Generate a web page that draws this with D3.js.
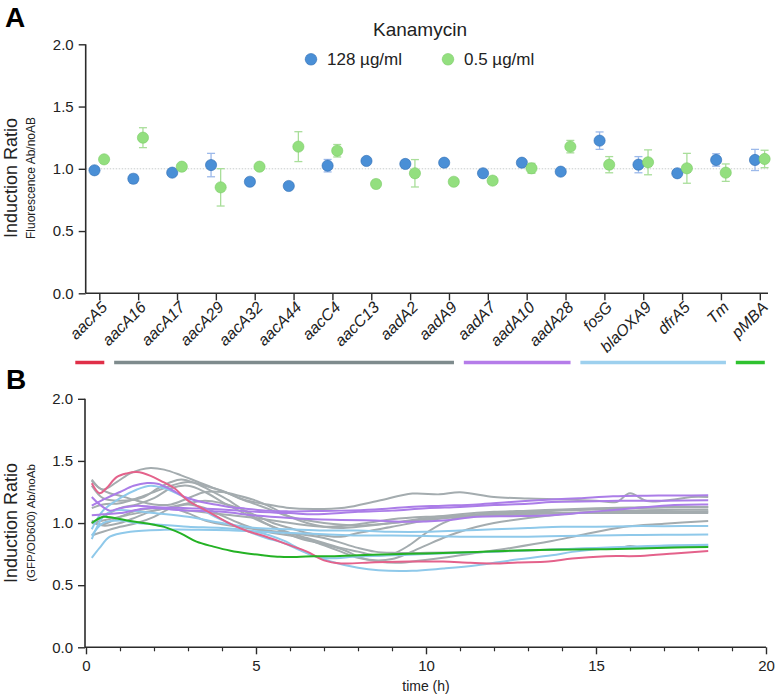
<!DOCTYPE html>
<html><head><meta charset="utf-8">
<script src="https://cdn.jsdelivr.net/npm/d3@7"></script>
<style>
body{margin:0;background:#fff;}
svg{display:block;font-family:"Liberation Sans",Arial,sans-serif;}
</style></head>
<body><svg id="c" width="779" height="696"></svg>
<script>
// ---------------- DATA ----------------
const categories = ["aacA5","aacA16","aacA17","aacA29","aacA32","aacA44","aacC4","aacC13","aadA2","aadA9","aadA7","aadA10","aadA28","fosG","blaOXA9","dfrA5","Tm","pMBA"];
const kan128    = [0.988,0.92,0.969,1.03,0.896,0.862,1.025,1.063,1.039,1.049,0.964,1.049,0.977,1.226,1.033,0.964,1.071,1.071];
const kan128Err = [0.02,0.035,0.02,0.094,0.02,0.02,0.05,0.02,0.03,0.02,0.02,0.02,0.02,0.07,0.065,0.02,0.05,0.085];
const kan05     = [1.076,1.25,1.017,0.851,1.017,1.178,1.145,0.878,0.964,0.896,0.905,1.004,1.178,1.033,1.052,1.004,0.969,1.079];
const kan05Err  = [0.02,0.08,0.02,0.15,0.02,0.12,0.05,0.03,0.11,0.02,0.03,0.04,0.05,0.065,0.1,0.12,0.07,0.07];
const legendLabels = ["128 µg/ml","0.5 µg/ml"];
const yTicksA = [0,0.5,1,1.5,2];
const yTicksB = [0,0.5,1,1.5,2];
const xTicksB = [0,5,10,15,20];
const groupStart = ["aacA5","aacA16","aadA7","fosG","pMBA"];
const groupEnd   = ["aacA5","aadA9","aadA28","Tm","pMBA"];

// panel B time courses: [time (h), induction ratio]
const lineRed = [[0.17,1.32],[0.4,1.24],[0.6,1.28],[0.9,1.37],[1.2,1.40],[1.5,1.41],[1.9,1.38],[2.2,1.34],[2.6,1.28],[3,1.18],[3.4,1.12],[3.8,1.06],[4.2,1.0],[4.7,0.94],[5.3,0.89],[5.9,0.83],[6.5,0.77],[7,0.70],[7.5,0.675],[8.5,0.685],[9.5,0.69],[10.5,0.69],[11.3,0.68],[12,0.675],[12.7,0.683],[13.6,0.69],[14.3,0.715],[15.3,0.733],[16.3,0.735],[17.3,0.755],[18.3,0.776]];
const lineGreen = [[0.17,1.0],[0.5,1.05],[0.8,1.043],[1.3,1.017],[1.8,0.996],[2.3,0.969],[2.8,0.915],[3.25,0.85],[3.75,0.81],[4.25,0.777],[4.75,0.755],[5.2,0.741],[5.7,0.728],[6.2,0.727],[6.7,0.733],[7.1,0.733],[8,0.741],[9,0.749],[10,0.755],[11,0.763],[12,0.773],[13,0.781],[14.3,0.787],[15.3,0.79],[16.3,0.795],[17.3,0.803],[18.3,0.808]];
const linesBlue = [
 [[0.17,0.95],[0.5,1.1],[1,1.2],[1.5,1.27],[1.9,1.30],[2.3,1.28],[2.8,1.22],[3.3,1.13],[3.8,1.05],[4.3,0.99],[4.8,0.93],[5.3,0.88],[5.8,0.84],[6.3,0.78],[6.9,0.72],[8,0.73],[9,0.74],[10,0.75],[12,0.77],[14,0.79],[15,0.80],[16,0.81],[17,0.82],[18.3,0.825]],
 [[0.17,0.9],[0.5,1.0],[1,1.02],[1.5,1.0],[2,0.99],[3,0.97],[4,0.96],[5,0.93],[5.8,0.86],[6.5,0.76],[7.2,0.69],[8,0.64],[8.6,0.62],[9.6,0.616],[10.5,0.634],[11.5,0.66],[12.5,0.70],[13.7,0.74],[14.3,0.768],[15.3,0.795],[16.7,0.808],[18.3,0.82]],
 [[0.17,0.87],[0.5,1.05],[0.8,1.1],[1.3,1.1],[2,1.08],[3,1.05],[4,1.0],[5,0.96],[6,0.95],[7,0.94],[8,0.94],[9,0.93],[10,0.93],[11,0.94],[12,0.95],[13,0.96],[14,0.97],[15,0.97],[16,0.975],[17,0.975],[18.3,0.977]],
 [[0.17,0.72],[0.4,0.8],[0.7,0.89],[1.3,0.93],[2.3,0.946],[3.3,0.946],[4.2,0.942],[5.2,0.93],[6,0.92],[7,0.91],[8,0.9],[9,0.9],[10,0.895],[11,0.89],[12,0.89],[13,0.89],[14,0.895],[15,0.9],[16,0.903],[17,0.905],[18.3,0.907]]
];
const linesPurple = [
 [[0.17,1.14],[0.6,1.2],[1,1.25],[1.4,1.30],[1.8,1.322],[2.1,1.317],[2.5,1.27],[2.9,1.21],[3.4,1.17],[3.8,1.15],[4.2,1.13],[4.7,1.116],[5.3,1.10],[5.9,1.094],[6.7,1.097],[7.5,1.10],[8.5,1.11],[9.5,1.13],[10.5,1.14],[11.5,1.15],[12.5,1.17],[13.7,1.19],[14.5,1.2],[15.5,1.215],[16.5,1.22],[17.5,1.222],[18.3,1.223]],
 [[0.17,1.21],[0.4,1.15],[0.7,1.10],[1,1.12],[1.5,1.14],[2,1.13],[3,1.12],[4,1.11],[5,1.09],[6,1.08],[6.7,1.07],[8,1.09],[9,1.1],[10,1.12],[11,1.13],[12,1.145],[13,1.155],[13.7,1.17],[15,1.175],[16,1.18],[17,1.18],[18.3,1.183]],
 [[0.17,1.063],[0.5,1.07],[1,1.08],[1.8,1.12],[2.5,1.11],[3,1.10],[4,1.09],[5,1.06],[6,1.04],[6.7,1.03],[7.5,1.025],[8.5,1.02],[9.5,1.01],[10.5,1.02],[11.5,1.05],[12.5,1.055],[13.5,1.06],[15.3,1.10],[17.3,1.145],[18.3,1.15]]
];
const linesGray = [
 [[0.17,1.34],[0.5,1.27],[0.9,1.33],[1.3,1.40],[1.6,1.43],[1.9,1.443],[2.3,1.43],[2.8,1.384],[3.3,1.33],[3.8,1.277],[4.2,1.237],[4.7,1.183],[5.2,1.156],[5.9,1.124],[6.7,1.113],[7.6,1.124],[8.6,1.18],[9.6,1.237],[10.4,1.231],[11,1.248],[12,1.21],[13,1.197],[14,1.19],[15,1.18],[15.6,1.17],[16,1.24],[16.5,1.177],[17.3,1.19],[17.8,1.21],[18.3,1.21]],
 [[0.17,1.30],[0.5,1.2],[1,1.18],[1.7,1.21],[2.1,1.277],[2.5,1.33],[2.8,1.35],[3.2,1.322],[3.75,1.25],[4.2,1.183],[4.7,1.09],[5.2,1.009],[5.7,0.942],[6.3,0.875],[6.9,0.835],[7.6,0.781],[8.1,0.72],[8.6,0.69],[9.1,0.68],[9.6,0.69],[10.5,0.72],[11.5,0.76],[12.5,0.80],[13.7,0.855],[14.5,0.9],[15.8,0.969],[17,0.995],[18.3,1.017]],
 [[0.17,1.0],[0.5,1.05],[1,1.12],[1.5,1.15],[2,1.2],[2.5,1.28],[3,1.30],[3.5,1.25],[4,1.17],[4.5,1.1],[5,1.03],[5.5,0.97],[6,0.92],[6.5,0.88],[7,0.84],[7.5,0.8],[8,0.77],[8.5,0.74],[9,0.75],[9.5,0.82],[10,0.92],[10.5,1.0],[11,1.05],[11.5,1.07],[12,1.08],[13,1.09],[14,1.10],[15,1.11],[16,1.12],[17,1.125],[18.3,1.13]],
 [[0.17,1.0],[0.5,0.99],[1,1.05],[1.5,1.1],[2,1.12],[3,1.1],[4,1.07],[5,1.04],[6,1.0],[7,0.97],[8,0.99],[9,1.03],[10,1.05],[11,1.06],[12,1.07],[13,1.08],[14,1.08],[15,1.085],[16,1.09],[17,1.09],[18.3,1.09]],
 [[0.17,1.12],[0.5,1.15],[1,1.16],[1.5,1.2],[2,1.25],[2.5,1.3],[3,1.33],[3.5,1.3],[4,1.26],[4.5,1.2],[5,1.15],[5.5,1.1],[6,1.05],[7,1.0],[8,0.98],[9,1.0],[10,1.03],[11,1.05],[12,1.07],[13,1.075],[14,1.08],[15,1.08],[16,1.08],[17,1.08],[18.3,1.08]],
 [[0.17,1.02],[0.5,0.98],[1,1.0],[1.5,1.05],[2,1.1],[2.5,1.12],[3,1.08],[3.5,1.02],[4,0.99],[5,0.95],[6,0.92],[7,0.88],[8,0.8],[8.5,0.77],[9,0.76],[10,0.76],[11,0.765],[12,0.77],[13,0.78],[14,0.79],[15,0.795],[15.7,0.80],[16,0.815],[16.4,0.80],[17,0.805],[18.3,0.81]],
 [[0.17,0.9],[0.5,0.93],[1,0.97],[1.5,1.0],[2,1.05],[2.5,1.12],[3,1.15],[3.5,1.12],[4,1.06],[4.5,1.0],[5,0.95],[5.5,0.92],[6,0.9],[6.5,0.87],[7,0.82],[7.5,0.77],[8,0.72],[8.5,0.7],[9,0.71],[9.5,0.76],[10,0.82],[10.5,0.88],[11,0.93],[11.5,0.97],[12,1.0],[13,1.04],[14,1.07],[15,1.09],[16,1.10],[17,1.105],[18.3,1.11]],
 [[0.17,1.35],[0.4,1.28],[0.7,1.24],[1,1.22],[1.5,1.18],[2,1.15],[2.5,1.15],[3,1.2],[3.5,1.25],[4,1.25],[4.5,1.22],[5,1.18],[5.5,1.12],[6,1.05],[6.5,1.0],[7,0.97],[7.5,0.96],[8,0.97],[9,1.0],[10,1.04],[11,1.07],[12,1.09],[13,1.1],[14,1.11],[15,1.12],[16,1.125],[17,1.13],[18.3,1.13]],
 [[0.17,1.0],[0.5,1.02],[1,1.05],[1.5,1.08],[2,1.1],[2.5,1.13],[3,1.16],[3.5,1.18],[4,1.16],[4.5,1.12],[5,1.06],[5.5,1.0],[6,0.96],[6.5,0.92],[7,0.9],[7.5,0.89],[8,0.92],[9,0.97],[10,1.02],[11,1.05],[12,1.06],[13,1.07],[14,1.08],[15,1.085],[16,1.09],[17,1.09],[18.3,1.095]]
];

// ---------------- STYLE ----------------
const axisColor = "#2b2b2b";
const col128 = "#4a8fd6", col128Stroke = "#2f6db3", col128Err = "#9cb9ea";
const col05 = "#93df7f", col05Stroke = "#7acb67", col05Err = "#a9de9a";
const groupColors = ["#e02f48","#7e8b8d","#b57ce9","#9dd0ee","#2fc22f"];
const lineColors = {gray:"#a4acaf", blue:"#8fc9ea", purple:"#ab7de8", red:"#e4628b", green:"#24b224"};

const svg = d3.select("#c");

// ---------------- PANEL A ----------------
const xA = d3.scalePoint().domain(categories).range([99.3, 759.8]);
const yA = d3.scaleLinear().domain([0,2]).range([293.3, 44.3]);
const axLeftA = 85.7, axRightA = 768;

svg.append("text").attr("x",5).attr("y",27).attr("font-size",28).attr("font-weight","bold").text("A");

// dotted reference line
svg.append("line").attr("x1",axLeftA).attr("x2",axRightA).attr("y1",yA(1)).attr("y2",yA(1))
  .attr("stroke","#c8cccc").attr("stroke-width",1).attr("stroke-dasharray","1.5,1.5");

// y axis
const gyA = svg.append("g").attr("transform",`translate(${axLeftA},0)`)
  .call(d3.axisLeft(yA).tickValues(yTicksA).tickFormat(d3.format(".1f")).tickSize(7).tickPadding(5));
// x axis
const gxA = svg.append("g").attr("transform",`translate(0,${yA(0)})`)
  .call(d3.axisBottom(xA).tickSize(7).tickFormat(""));
gxA.select(".domain").attr("d",`M${axLeftA},0H${axRightA}`);
[gyA,gxA].forEach(g=>{
  g.select(".domain").attr("stroke",axisColor).attr("stroke-width",1.6);
  g.selectAll(".tick line").attr("stroke",axisColor).attr("stroke-width",1.4);
  g.selectAll(".tick text").attr("font-size",15).attr("fill","#222").attr("font-family","Liberation Sans, Arial, sans-serif");
});
gyA.select(".domain").attr("d",`M0,${yA(2)}V${yA(0)}`);

// rotated category labels
svg.append("g").selectAll("text").data(categories).join("text")
  .attr("transform",d=>`translate(${xA(d)+9},${yA(0)+15}) rotate(-45)`)
  .attr("text-anchor","end").attr("font-size",16).attr("font-style","italic").attr("fill","#222")
  .text(d=>d);

// group bars
svg.append("g").selectAll("line").data(groupStart).join("line")
  .attr("x1",d=>xA(d)-24).attr("x2",(d,i)=>xA(groupEnd[i])+5)
  .attr("y1",362.5).attr("y2",362.5)
  .attr("stroke",(d,i)=>groupColors[i]).attr("stroke-width",3.5);

// error bars + dots
function drawSeries(vals, errs, off, c, cs, ce){
  const g = svg.append("g");
  categories.forEach((cat,i)=>{
    const x = xA(cat)+off, lo = yA(vals[i]-errs[i]), hi = yA(vals[i]+errs[i]);
    g.append("line").attr("x1",x).attr("x2",x).attr("y1",lo).attr("y2",hi).attr("stroke",ce).attr("stroke-width",1.3);
    [lo,hi].forEach(yy=>g.append("line").attr("x1",x-4).attr("x2",x+4).attr("y1",yy).attr("y2",yy).attr("stroke",ce).attr("stroke-width",1.3));
  });
  g.selectAll("circle").data(vals).join("circle")
    .attr("cx",(d,i)=>xA(categories[i])+off).attr("cy",d=>yA(d)).attr("r",5.6)
    .attr("fill",c).attr("stroke",cs).attr("stroke-width",0.6);
}
drawSeries(kan128,kan128Err,-4.8,col128,col128Stroke,col128Err);
drawSeries(kan05,kan05Err,4.8,col05,col05Stroke,col05Err);

// legend
svg.append("text").attr("x",420).attr("y",36).attr("text-anchor","middle").attr("font-size",19).attr("fill","#222").text("Kanamycin");
const leg = [{x:311,c:col128,s:col128Stroke},{x:448,c:col05,s:col05Stroke}];
leg.forEach((l,i)=>{
  svg.append("circle").attr("cx",l.x).attr("cy",59.3).attr("r",5.8).attr("fill",l.c).attr("stroke",l.s).attr("stroke-width",0.6);
  svg.append("text").attr("x",l.x+16).attr("y",65).attr("font-size",17).attr("fill","#222").text(legendLabels[i]);
});

// y labels A
svg.append("text").attr("transform","translate(17,178) rotate(-90)").attr("text-anchor","middle").attr("font-size",18).attr("fill","#222").text("Induction Ratio");
svg.append("text").attr("transform","translate(35,178) rotate(-90)").attr("text-anchor","middle").attr("font-size",12).attr("fill","#222").text("Fluorescence Ab/noAB");

// ---------------- PANEL B ----------------
const xB = d3.scaleLinear().domain([0,20]).range([86,766]);
const yB = d3.scaleLinear().domain([0,2]).range([647.3, 398.8]);

svg.append("text").attr("x",6).attr("y",389).attr("font-size",28).attr("font-weight","bold").text("B");

const gyB = svg.append("g").attr("transform","translate(85,0)")
  .call(d3.axisLeft(yB).tickValues(yTicksB).tickFormat(d3.format(".1f")).tickSize(7).tickPadding(5));
const gxB = svg.append("g").attr("transform",`translate(0,${yB(0)})`)
  .call(d3.axisBottom(xB).tickValues(xTicksB).tickFormat(d3.format("d")).tickSize(7).tickPadding(6));
svg.append("g").attr("transform",`translate(0,${yB(0)})`)
  .call(d3.axisBottom(xB).tickValues(d3.range(0,21).filter(v=>v%5!==0)).tickFormat("").tickSize(4))
  .call(g=>{g.select(".domain").remove(); g.selectAll("line").attr("stroke",axisColor).attr("stroke-width",1.2);});
[gyB,gxB].forEach(g=>{
  g.select(".domain").attr("stroke",axisColor).attr("stroke-width",1.6);
  g.selectAll(".tick line").attr("stroke",axisColor).attr("stroke-width",1.4);
  g.selectAll(".tick text").attr("fill","#222");
});
gyB.select(".domain").attr("d",`M0,${yB(2)}V${yB(0)}`);
gxB.select(".domain").attr("d",`M${85},0H${xB(20)}`);
gyB.selectAll(".tick text").attr("font-size",15).attr("font-family","Liberation Sans, Arial, sans-serif");
gxB.selectAll(".tick text").attr("font-size",15).attr("font-family","'Liberation Sans Narrow', 'Liberation Sans', Arial, sans-serif");

svg.append("text").attr("x",426).attr("y",691).attr("text-anchor","middle").attr("font-size",14)
  .attr("font-family","'Liberation Sans Narrow', 'Liberation Sans', Arial, sans-serif").attr("fill","#222").text("time (h)");
svg.append("text").attr("transform","translate(17,523) rotate(-90)").attr("text-anchor","middle").attr("font-size",18).attr("fill","#222").text("Induction Ratio");
svg.append("text").attr("transform","translate(35,523) rotate(-90)").attr("text-anchor","middle").attr("font-size",11.5).attr("fill","#222").text("(GFP/OD600) Ab/noAb");

const lineGen = d3.line().x(d=>xB(d[0])).y(d=>yB(d[1])).curve(d3.curveCatmullRom.alpha(0.5));
const gl = svg.append("g").attr("fill","none").attr("stroke-width",2).attr("stroke-linejoin","round");
function drawLines(arr,color){
  gl.append("g").selectAll("path").data(arr).join("path").attr("d",lineGen).attr("stroke",color);
}
drawLines(linesGray,lineColors.gray);
drawLines(linesBlue,lineColors.blue);
drawLines(linesPurple,lineColors.purple);
drawLines([lineRed],lineColors.red);
drawLines([lineGreen],lineColors.green);
</script></body></html>
